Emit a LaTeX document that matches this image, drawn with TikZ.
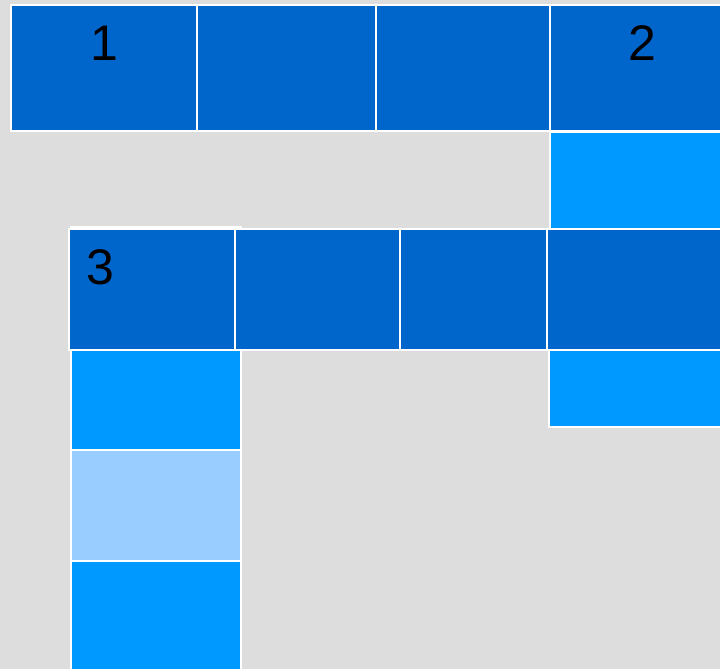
\documentclass[tikz,border=0pt]{standalone}
\usepackage{fontspec}
\setmainfont{Liberation Sans}
\definecolor{bg}{HTML}{DDDDDD}
\definecolor{dark}{HTML}{0066CC}
\definecolor{mid}{HTML}{0099FF}
\definecolor{pale}{HTML}{99CCFF}
\tikzset{
  cell/.style={draw=white, line width=2pt},
  darkcell/.style={cell, fill=dark},
  midcell/.style={cell, fill=mid},
  palecell/.style={cell, fill=pale},
  lbl/.style={inner sep=0pt, font=\fontsize{50}{50}\selectfont, text=black}
}
\begin{document}
\begin{tikzpicture}[x=1pt,y=-1pt]
\fill[bg] (0,0) rectangle (720,669);
\useasboundingbox (0,0) rectangle (720,669);
\clip (0,0) rectangle (720,669);
% left column (behind row 3)
\draw[midcell] (71,227) rectangle (241,350);
\draw[midcell] (71,350) rectangle (241,450);
\draw[palecell] (71,450) rectangle (241,561);
\draw[midcell] (71,561) rectangle (241,690);
% top row
\draw[darkcell] (11,5) rectangle (197,131);
\draw[darkcell] (197,5) rectangle (376,131);
\draw[darkcell] (376,5) rectangle (550,131);
\draw[darkcell] (550,5) rectangle (735,131);
\draw[midcell] (550,132) rectangle (735,229);
% row 3
\draw[darkcell] (69,229) rectangle (235,350);
\draw[darkcell] (235,229) rectangle (400,350);
\draw[darkcell] (400,229) rectangle (547,350);
\draw[darkcell] (547,229) rectangle (735,350);
\draw[midcell] (549,350) rectangle (735,427);
% labels
\node[lbl] (l1) at (104,43) {1};
\node[lbl] (l2) at (642,43) {2};
\node[lbl] (l3) at (100,267) {3};
\end{tikzpicture}
\end{document}
